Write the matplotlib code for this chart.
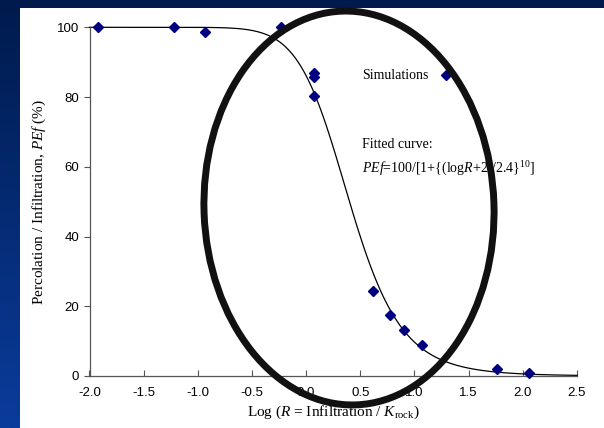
import numpy as np
import matplotlib
matplotlib.use("Agg")
import matplotlib.pyplot as plt
from matplotlib.patches import Ellipse, Rectangle

plt.rcParams['mathtext.fontset'] = 'custom'
plt.rcParams['mathtext.rm'] = 'Liberation Serif'
plt.rcParams['mathtext.it'] = 'Liberation Serif:italic'

# simulation results: log R vs PEf (%)
log_r = [-1.92, -1.22, -0.93, -0.23, 0.07, 0.07, 0.07, 0.62, 0.77, 0.90, 1.07, 1.76, 2.06]
pef = [100, 100, 98.6, 100, 86.8, 85.7, 80.3, 24.4, 17.5, 13.2, 8.9, 2.0, 1.0]

# fitted curve PEf = 100/[1+((logR+2)/2.4)^10]
fit_a = 2.0
fit_b = 2.4
fit_n = 10

xticks = [-2.0, -1.5, -1.0, -0.5, 0.0, 0.5, 1.0, 1.5, 2.0, 2.5]
yticks = [0, 20, 40, 60, 80, 100]

W, H = 604, 428
fig = plt.figure(figsize=(W / 100, H / 100), dpi=100)

# dark blue slide background with white panel
bg = fig.add_axes([0, 0, 1, 1], zorder=0)
grad = np.linspace(0, 1, 256).reshape(-1, 1)
cmap = matplotlib.colors.LinearSegmentedColormap.from_list("slide", ["#001a4c", "#0a3c9c"])
bg.imshow(grad, aspect='auto', cmap=cmap, extent=[0, W, H, 0])
bg.add_patch(Rectangle((20, 8), W - 20, H - 8, facecolor='white', edgecolor='none'))
bg.set_xlim(0, W)
bg.set_ylim(H, 0)
bg.axis('off')

ax = fig.add_axes([89.5 / W, 1 - 376 / H, (577 - 89.5) / W, (376 - 27.3) / H], zorder=1)
ax.patch.set_alpha(0)

xs = np.linspace(-2.0, 2.5, 400)
ax.plot(xs, 100 / (1 + ((xs + fit_a) / fit_b) ** fit_n), color='black', lw=0.9, clip_on=False)
ax.plot(log_r, pef, 'D', color='#000080', ms=4.6, clip_on=False, zorder=3)

ax.set_xlim(-2.0, 2.5)
ax.set_ylim(0, 100)
ax.set_xticks(xticks)
ax.set_xticklabels(['%.1f' % v for v in xticks])
ax.set_yticks(yticks)
for s in ['top', 'right']:
    ax.spines[s].set_visible(False)
for s in ['left', 'bottom']:
    ax.spines[s].set_color('#555555')
    ax.spines[s].set_linewidth(0.9)
ax.tick_params(axis='x', direction='in', length=4, color='#555555', labelsize=9.5, pad=8)
ax.tick_params(axis='y', direction='out', length=4, color='#555555', labelsize=9.5)
for lab in ax.get_xticklabels() + ax.get_yticklabels():
    lab.set_family('Liberation Sans')

ax.set_xlabel(r'Log ($\mathit{R}$ = Infiltration / $\mathit{K}_{\rm rock}$)',
              family='Liberation Serif', fontsize=11, labelpad=3)
ax.set_ylabel(r'Percolation / Infiltration, $\mathit{PEf}$ (%)',
              family='Liberation Serif', fontsize=11, labelpad=6)

# legend-style notes
ax.text(0.52, 86.3, 'Simulations', family='Liberation Serif', fontsize=10, va='center')
ax.plot([1.29], [86.3], 'D', color='#000080', ms=4.6)
ax.text(0.52, 66.5, 'Fitted curve:', family='Liberation Serif', fontsize=10, va='center')
ax.text(0.52, 59.5, r'$\mathit{PEf}$=100/[1+{(log$\mathit{R}$+2)/2.4}$^{10}$]',
        family='Liberation Serif', fontsize=10, va='center')

# highlight ring
ov = fig.add_axes([0, 0, 1, 1], zorder=2)
ov.set_xlim(0, W)
ov.set_ylim(H, 0)
ov.axis('off')
ov.patch.set_alpha(0)
ov.add_patch(Ellipse((349, 208), 290, 394, angle=-2, fill=False, edgecolor='#111111', lw=5))

fig.savefig('out.png', dpi=100)
